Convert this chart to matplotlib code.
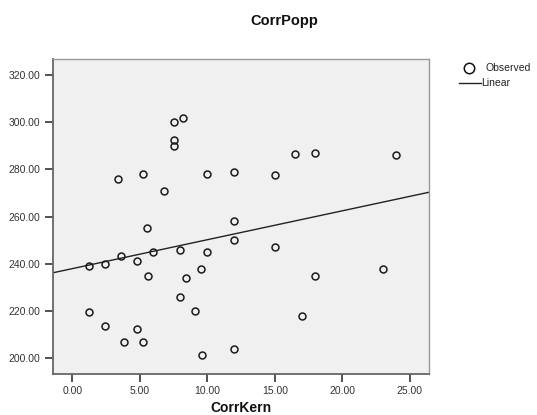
import numpy as np
import matplotlib
matplotlib.use("Agg")
import matplotlib.pyplot as plt
from matplotlib.lines import Line2D

plt.rcParams['font.family'] = ['Liberation Sans', 'DejaVu Sans']

# Observed values
corr_kern = [1.2, 1.2, 2.4, 2.4, 3.4, 3.6, 3.8, 4.8, 4.8, 5.2, 5.2, 5.5, 5.6,
             6.0, 6.8, 7.5, 7.5, 7.5, 8.2, 8.0, 8.0, 8.4, 9.1, 9.5, 9.6, 10.0,
             10.0, 12.0, 12.0, 12.0, 12.0, 15.0, 15.0, 16.5, 17.0, 18.0, 18.0,
             23.0, 24.0]
corr_popp = [239.0, 219.5, 240.0, 213.5, 276.0, 243.5, 207.0, 241.3, 212.3,
             278.0, 207.0, 255.0, 235.0, 245.0, 271.0, 300.0, 292.5, 290.0,
             302.0, 246.0, 226.0, 234.0, 220.0, 238.0, 201.5, 278.0, 245.0,
             279.0, 258.0, 250.0, 204.0, 277.5, 247.0, 286.5, 218.0, 287.0,
             235.0, 238.0, 286.0]

x_ticks = [0, 5, 10, 15, 20, 25]
y_ticks = [200, 220, 240, 260, 280, 300, 320]

W, H = 537, 415
fig = plt.figure(figsize=(W / 100, H / 100), dpi=100)
ax = fig.add_axes([53 / W, 1 - 374 / H, (429 - 53) / W, (374 - 59) / H])
ax.set_facecolor('#f0f0f0')

x = np.array(corr_kern)
y = np.array(corr_popp)
ax.plot(x, y, linestyle='none', marker='o', ms=5.0, mfc='none',
        mec='#1a1a1a', mew=1.1, zorder=3)

# Linear fit
slope, intercept = np.polyfit(x, y, 1)
xlim = (-1.43, 26.42)
xs = np.array(xlim)
ax.plot(xs, intercept + slope * xs, color='#222222', lw=1.0, zorder=2)

ax.set_xlim(*xlim)
ax.set_ylim(193.35, 326.8)
ax.set_xticks(x_ticks)
ax.set_yticks(y_ticks)
ax.set_xticklabels([f"{v:.2f}" for v in x_ticks])
ax.set_yticklabels([f"{v:.2f}" for v in y_ticks])
ax.tick_params(direction='out', length=6, width=1.2, color='#333333',
               labelsize=7.5, labelcolor='#333333', pad=3)
for s in ax.spines.values():
    s.set_color('#999999')
    s.set_linewidth(1.0)
ax.spines['left'].set_color('#666666')
ax.spines['bottom'].set_color('#666666')
ax.spines['left'].set_linewidth(1.3)
ax.spines['bottom'].set_linewidth(1.3)

fig.text(284 / W, 1 - 21 / H, 'CorrPopp', ha='center', va='center',
         fontsize=10.5, fontweight='bold', color='#111111')
fig.text(241 / W, 1 - 408 / H, 'CorrKern', ha='center', va='center',
         fontsize=10, fontweight='bold', color='#111111')

# Legend
fig.add_artist(Line2D([469.3 / W], [1 - 68.3 / H], marker='o', ms=7.5,
                      mfc='none', mec='#111111', mew=1.1,
                      transform=fig.transFigure))
fig.text(485 / W, 1 - 68 / H, 'Observed', ha='left', va='center',
         fontsize=7.5, color='#222222')
fig.add_artist(Line2D([459.3 / W, 481 / W], [1 - 82.7 / H, 1 - 82.7 / H],
                      color='#222222', lw=1.0, transform=fig.transFigure))
fig.text(481 / W, 1 - 82.5 / H, 'Linear', ha='left', va='center',
         fontsize=7.5, color='#222222')

fig.savefig('out.png', dpi=100)
